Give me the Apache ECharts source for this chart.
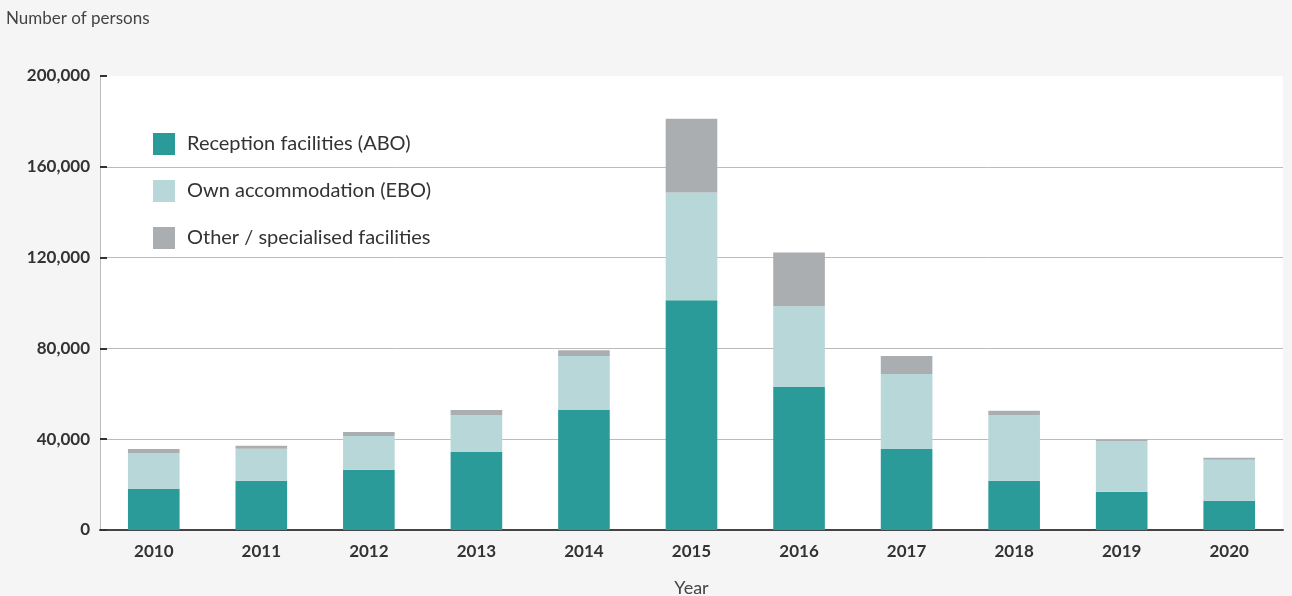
<!DOCTYPE html>
<html><head><meta charset="utf-8">
<script src="https://cdn.jsdelivr.net/npm/echarts@6/dist/echarts.min.js"></script>
<style>html,body{margin:0;padding:0;background:#f5f5f5;}#c{width:1292px;height:596px;}</style>
</head><body><div id="c"></div>
<script>
const years = ['2010','2011','2012','2013','2014','2015','2016','2017','2018','2019','2020'];
const abo = [18100, 21700, 26500, 34400, 52900, 101200, 63000, 35700, 21700, 16800, 12900];
const ebo = [15800, 14100, 14900, 16300, 23700, 47500, 35600, 33000, 29000, 22400, 18000];
const other = [1800, 1300, 1800, 2200, 2600, 32500, 23700, 7900, 1800, 700, 900];
const seriesNames = ['Reception facilities (ABO)', 'Own accommodation (EBO)', 'Other / specialised facilities'];
const colors = ['#2a9b99', '#b8d7d8', '#aaaeb1'];
const yTicks = [0, 40000, 80000, 120000, 160000, 200000];

const chart = echarts.init(document.getElementById('c'));
const font = 'Lato, "Noto Sans", sans-serif';
chart.setOption({
  backgroundColor: '#f5f5f5',
  animation: false,
  textStyle: {fontFamily: font},
  title: {text: 'Number of persons', left: 1, top: 5, textStyle: {fontFamily: font, fontSize: 17, fontWeight: 'normal', color: '#444'}},
  legend: {
    orient: 'vertical', left: 148, top: 128, itemWidth: 22, itemHeight: 22, itemGap: 25,
    icon: 'rect', textStyle: {fontFamily: font, fontSize: 20, color: '#333', padding: [0,0,0,7]},
    data: seriesNames
  },
  grid: {left: 100, right: 9, top: 76, bottom: 66, show: true, backgroundColor: '#ffffff', borderWidth: 0, outerBoundsMode: 'none', containLabel: false},
  xAxis: {
    type: 'category', data: years, name: 'Year', nameLocation: 'middle', nameGap: 49,
    nameTextStyle: {fontFamily: font, fontSize: 18, color: '#444'},
    axisLine: {lineStyle: {color: '#444', width: 2}},
    axisTick: {inside: true, length: 7, lineStyle: {color: '#444', width: 2}},
    axisLabel: {fontFamily: font, fontSize: 17, fontWeight: 'bold', color: '#333', margin: 13}
  },
  yAxis: {
    type: 'value', min: 0, max: 200000, interval: 40000,
    axisLine: {show: true, lineStyle: {color: '#bbb', width: 1}},
    axisTick: {show: true, inside: true, length: 7, lineStyle: {color: '#333', width: 2}},
    splitLine: {showMaxLine: false, lineStyle: {color: '#bbbbbb', width: 1}},
    axisLabel: {fontFamily: font, fontSize: 17, fontWeight: 'bold', color: '#333', margin: 10,
      formatter: v => yTicks.includes(v) ? v.toLocaleString('en-US') : ''}
  },
  series: [abo, ebo, other].map((d, i) => ({
    name: seriesNames[i], type: 'bar', stack: 'total', data: d, barWidth: '48%',
    itemStyle: {color: colors[i]}
  }))
});
</script></body></html>
